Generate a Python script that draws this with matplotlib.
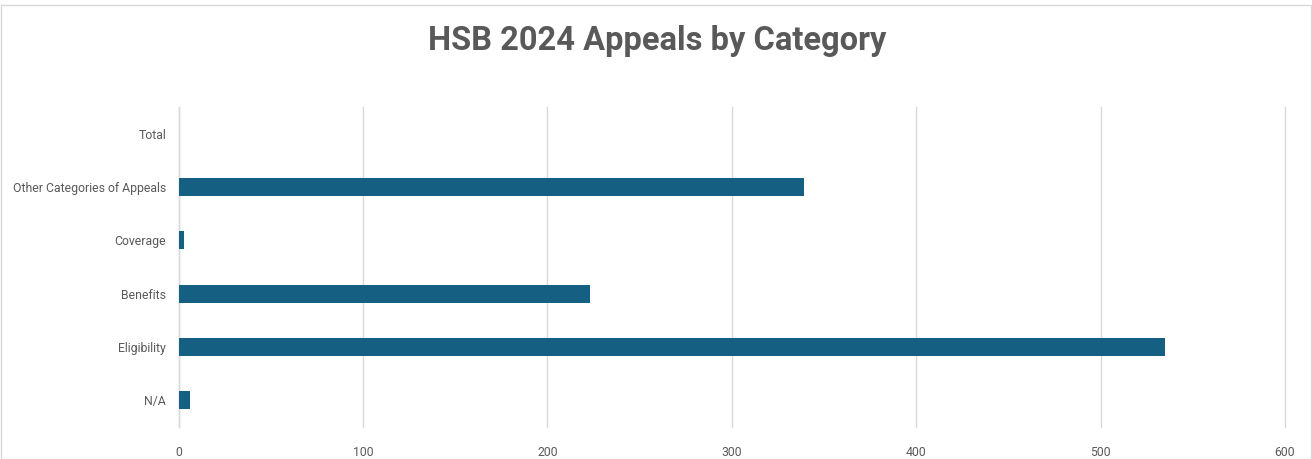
import matplotlib
matplotlib.use("Agg")
import matplotlib.pyplot as plt
from matplotlib.patches import Rectangle

categories = ["N/A", "Eligibility", "Benefits", "Coverage", "Other Categories of Appeals", "Total"]
values = [6, 535, 223, 3, 339, 0]
xticks = [0, 100, 200, 300, 400, 500, 600]

W, H = 1312, 459
fig = plt.figure(figsize=(W / 100, H / 100), dpi=100)
ax = fig.add_axes([178.7 / W, 1 - 427 / H, (1285 - 178.7) / W, 320 / H])

ypos = list(range(len(categories)))
ax.barh(ypos, values, height=0.34, color="#156082", zorder=3)
ax.set_ylim(-0.5, len(categories) - 0.5)
ax.set_xlim(0, 600)
ax.set_xticks(xticks)
ax.set_yticks(ypos)
ax.set_yticklabels(categories)
ax.grid(axis="x", color="#d9d9d9", linewidth=1, zorder=0)
for gl in ax.xaxis.get_gridlines():
    gl.set_clip_on(False)
for s in ["top", "right", "bottom"]:
    ax.spines[s].set_visible(False)
ax.spines["left"].set_color("#d9d9d9")
ax.spines["left"].set_linewidth(1)
ax.tick_params(axis="both", length=0, labelsize=8.8, labelcolor="#595959")
ax.tick_params(axis="y", pad=9)
ax.tick_params(axis="x", pad=14)
for lab in ax.get_xticklabels() + ax.get_yticklabels():
    lab.set_fontfamily("Roboto")

fig.text(657 / W, 1 - 41 / H, "HSB 2024 Appeals by Category", ha="center", va="center",
         fontsize=23.5, fontweight="bold", color="#595959", family="Roboto")

fig.patches.append(Rectangle((1 / W, 0.5 / H), (W - 2.5) / W, (H - 5) / H, transform=fig.transFigure,
                             fill=False, edgecolor="#d9d9d9", linewidth=1))

fig.savefig("out.png", dpi=100, facecolor="white")
